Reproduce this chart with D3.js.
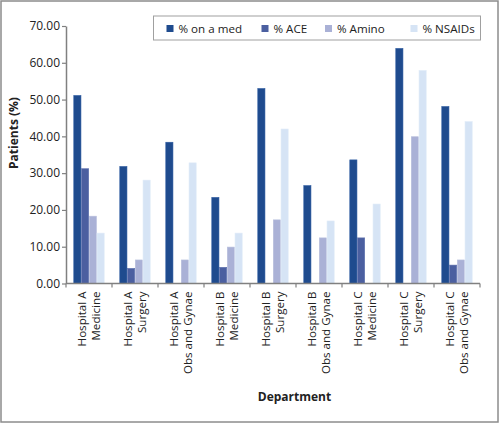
<!DOCTYPE html>
<html><head><meta charset="utf-8">
<script src="https://cdn.jsdelivr.net/npm/d3@7"></script>
<style>body{margin:0;background:#fff}svg{display:block;font-family:"Open Sans",sans-serif}</style>
</head><body><svg id="c" width="500" height="424"></svg>
<script>
const categories = [
  ["Hospital A","Medicine"],["Hospital A","Surgery"],["Hospital A","Obs and Gynae"],
  ["Hospital B","Medicine"],["Hospital B","Surgery"],["Hospital B","Obs and Gynae"],
  ["Hospital C","Medicine"],["Hospital C","Surgery"],["Hospital C","Obs and Gynae"]
];
const seriesNames = ["% on a med","% ACE","% Amino","% NSAIDs"];
const onMed  = [51.1, 31.8, 38.4, 23.4, 53.0, 26.6, 33.6, 63.9, 48.1];
const ace    = [31.2, 4.1, 0, 4.4, 0, 0, 12.4, 0, 5.0];
const amino  = [18.3, 6.4, 6.4, 9.9, 17.3, 12.4, 0, 39.9, 6.4];
const nsaids = [13.7, 28.1, 32.8, 13.7, 42.0, 17.0, 21.6, 57.9, 44.0];
const yTicks = [0,10,20,30,40,50,60,70];
const colors = ["#1f4b8e","#4b5fa0","#aab1d6","#d6e4f5"];
const strokes = ["#2c5aa0","#5d70ad","#b8bfdd","#e0ebf8"];

const series = [onMed, ace, amino, nsaids];
const svg = d3.select("#c");
const L = 66, R = 480, T = 26, B = 283.5;

svg.append("rect").attr("x",1).attr("y",1).attr("width",497).attr("height",421)
  .attr("fill","none").attr("stroke","#8c8c8c").attr("stroke-width",1.5);

const keys = categories.map((c,i)=>i);
const x = d3.scaleBand().domain(keys).range([L,R]).paddingInner(0.326).paddingOuter(0.163);
const xs = d3.scaleBand().domain(d3.range(series.length)).range([0,x.bandwidth()]);
const y = d3.scaleLinear().domain([0,70]).range([B,T]);

// bars
series.forEach((vals,si)=>{
  svg.append("g").selectAll("rect").data(vals).join("rect")
    .attr("x",(d,i)=>x(i)+xs(si)+0.3)
    .attr("y",d=>y(d))
    .attr("width",xs.bandwidth()-0.6)
    .attr("height",d=>Math.max(0,y(0)-y(d)))
    .attr("fill",colors[si]).attr("stroke",strokes[si]).attr("stroke-width",0.6);
});

// y axis
const yAxis = d3.axisLeft(y).tickValues(yTicks).tickFormat(d3.format(".2f")).tickSize(4).tickSizeOuter(0);
const gy = svg.append("g").attr("transform",`translate(${L},0)`).call(yAxis);
gy.select(".domain").attr("stroke","#808080").attr("stroke-width",1.5);
gy.selectAll(".tick line").attr("stroke","#808080").attr("stroke-width",1.2);
gy.selectAll(".tick text").attr("font-family","Open Sans").attr("font-size",12).attr("fill","#222").attr("x",-6);

// x axis
const gx = svg.append("g");
gx.append("line").attr("x1",L).attr("x2",R).attr("y1",B).attr("y2",B).attr("stroke","#808080").attr("stroke-width",1.5);
const bounds = keys.map(k=>x(k)-x.step()*x.paddingOuter()).concat([R]);
gx.selectAll("line.t").data(bounds).join("line").attr("class","t")
  .attr("x1",d=>d).attr("x2",d=>d).attr("y1",B).attr("y2",B+4).attr("stroke","#808080").attr("stroke-width",1.2);

const lbl = svg.append("g").selectAll("text").data(categories).join("text")
  .attr("transform",(d,i)=>`translate(${x(i)+x.bandwidth()/2},${B+8}) rotate(-90)`)
  .attr("text-anchor","end").attr("font-size",11.6).attr("fill","#222");
lbl.append("tspan").attr("x",0).attr("y",-3).text(d=>d[0]);
lbl.append("tspan").attr("x",0).attr("y",11).text(d=>d[1]);

// titles
svg.append("text").attr("transform","translate(18,133) rotate(-90)").attr("text-anchor","middle")
  .attr("font-weight","bold").attr("font-size",12).attr("fill","#222").text("Patients (%)");
svg.append("text").attr("x",294.5).attr("y",401).attr("text-anchor","middle")
  .attr("font-weight","bold").attr("font-size",12).attr("fill","#222").text("Department");

// legend
const lg = svg.append("g");
lg.append("rect").attr("x",153.5).attr("y",16).attr("width",327).attr("height",24)
  .attr("fill","#fff").attr("stroke","#a0a0a0").attr("stroke-width",1);
const legX = [166.5, 261.5, 325, 410.5];
seriesNames.forEach((n,i)=>{
  lg.append("rect").attr("x",legX[i]).attr("y",25).attr("width",7).attr("height",7).attr("fill",colors[i]);
  lg.append("text").attr("x",legX[i]+12).attr("y",32.5).attr("font-size",11.6).attr("fill","#222").text(n);
});
</script></body></html>
